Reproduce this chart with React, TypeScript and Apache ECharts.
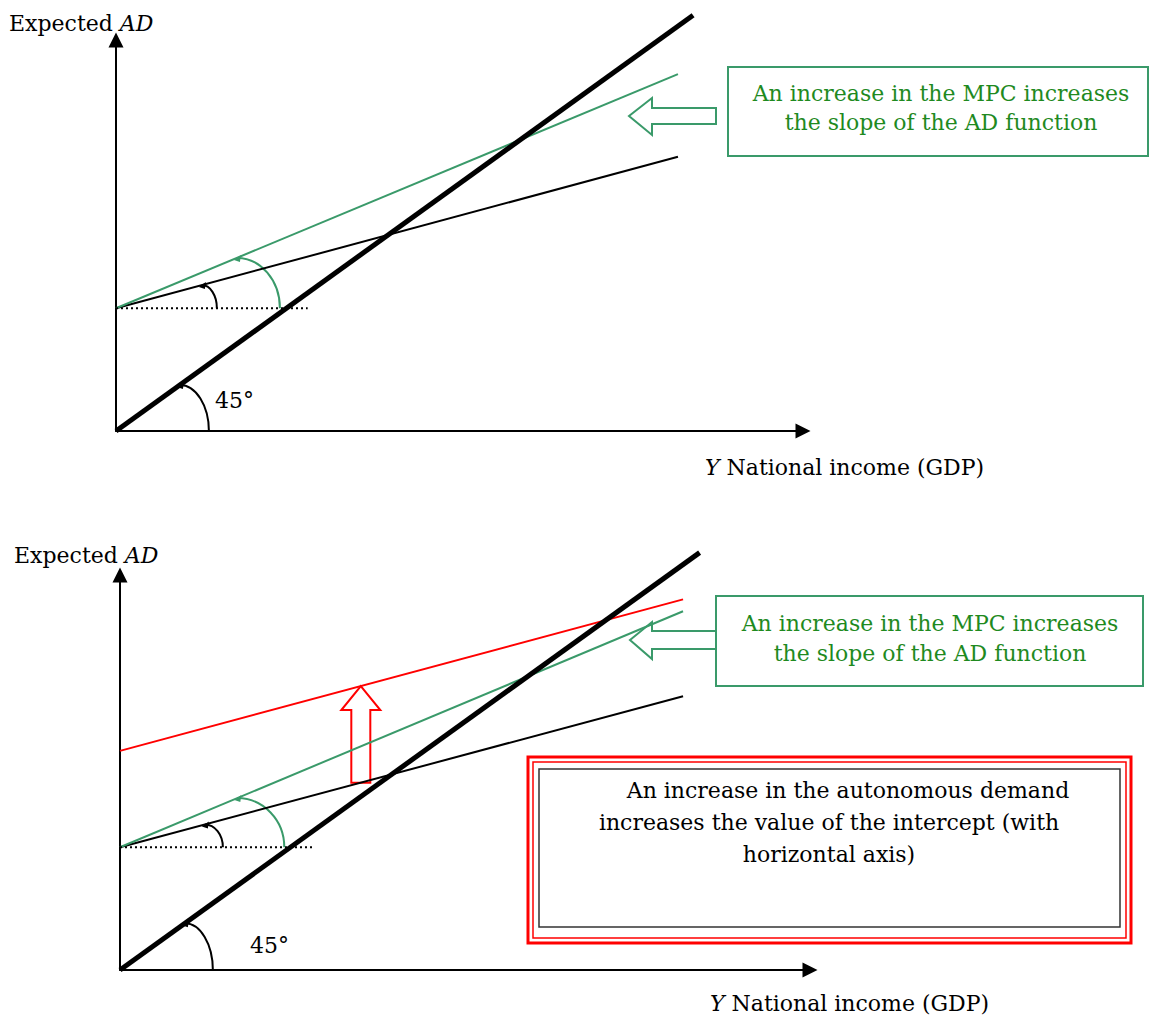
import React, { useEffect, useRef } from "react";
import * as echarts from "echarts";

// ---------- Top diagram (data units) ----------
const topXMax = 100;
const topYMax = 79;
const top45 = [[0, 0], [84, 84]];
const topAD = [[0, 24.8], [81.8, 55.4]];
const topADSteep = [[0, 24.8], [81.8, 72.1]];
const topBaseline = [[0, 24.8], [27.9, 24.8]];
// angle markers: [x where marker meets its line, intercept, slope]
const topAngles = [
  [12.5, 24.8, (55.4 - 24.8) / 81.8],
  [17.6, 24.8, (72.1 - 24.8) / 81.8],
  [9.3, 0, 1],
];

// ---------- Bottom diagram (data units) ----------
const botXMax = 100;
const botYMax = 79.5;
const bot45 = [[0, 0], [84, 84]];
const botAD = [[0, 24.7], [81.6, 55.1]];
const botADSteep = [[0, 24.7], [81.6, 72.2]];
const botADHigh = [[0, 44.1], [81.6, 74.6]];
const botBaseline = [[0, 24.7], [28.1, 24.7]];
const botAngles = [
  [12.3, 24.7, (55.1 - 24.7) / 81.6],
  [17.0, 24.7, (72.2 - 24.7) / 81.6],
  [9.4, 0, 1],
];
const shiftX = 34.9;

// ---------- Texts ----------
const yAxisTitle = "{n|Expected }{i|AD}";
const xAxisTitle = "{i|Y}{n| National income (GDP)}";
const angleLabel = "45°";
const mpcText = ["An increase in the MPC increases", "the slope of the AD function"];
const autoText = [
  "An increase in the autonomous demand",
  "increases the value of the intercept (with",
  "horizontal axis)",
];

// ---------- Styles ----------
const GREEN = "#3a9a6a";
const GREEN_TEXT = "#1f8a1f";
const RED = "#ff0000";
const FONT = "DejaVu Serif";
const FS = 22;
const arcRx = [15, 43, 29];
const arcRxBot = [18, 47, 28];
const arcColors = ["#000", GREEN, "#000"];

const interp = (line: number[][], x: number) => {
  const [a, b] = line;
  return a[1] + ((b[1] - a[1]) * (x - a[0])) / (b[0] - a[0]);
};
const shiftData = [[shiftX, interp(botAD, shiftX), interp(botADHigh, shiftX)]];

const arcRender = (rx: number[], colors: string[]) => (params: any, api: any) => {
  const cx = api.value(0);
  const base = api.value(1);
  const slope = api.value(2);
  const p0 = api.coord([cx, base]);
  const p1 = api.coord([cx, base + slope * cx]);
  const a = rx[params.dataIndex];
  const b = p0[1] - p1[1];
  const k = 0.5523;
  const c = colors[params.dataIndex];
  return {
    type: "group",
    children: [
      {
        type: "bezierCurve",
        shape: {
          x1: p0[0] + a, y1: p0[1],
          cpx1: p0[0] + a, cpy1: p0[1] - k * b,
          cpx2: p0[0] + k * a, cpy2: p1[1],
          x2: p0[0], y2: p1[1],
        },
        style: { stroke: c, fill: null, lineWidth: 2 },
      },
      {
        type: "polygon",
        shape: { points: [[p0[0] - 3, p1[1] + 2], [p0[0] + 4, p1[1] - 3], [p0[0] + 3, p1[1] + 4]] },
        style: { fill: c },
      },
    ],
  };
};

const shiftRender = (params: any, api: any) => {
  const x = api.value(0);
  const bot = api.coord([x, api.value(1)]);
  const tip = api.coord([x, api.value(2)]);
  const hw = 19.5, bw = 9.5, hl = 24;
  return {
    type: "polygon",
    shape: {
      points: [
        [tip[0], tip[1]],
        [tip[0] + hw, tip[1] + hl],
        [tip[0] + bw, tip[1] + hl],
        [tip[0] + bw, bot[1]],
        [tip[0] - bw, bot[1]],
        [tip[0] - bw, tip[1] + hl],
        [tip[0] - hw, tip[1] + hl],
      ],
    },
    style: { fill: "none", stroke: RED, lineWidth: 2 },
  };
};

const axisCommon = {
  type: "value",
  axisTick: { show: false },
  axisLabel: { show: false },
  splitLine: { show: false },
};
const axisLine = {
  show: true,
  onZero: false,
  symbol: ["none", "triangle"],
  symbolSize: [15, 15],
  lineStyle: { color: "#000", width: 2 },
};

const line = (data: number[][], idx: number, color: string, width: number, extra: any = {}) => ({
  type: "line",
  xAxisIndex: idx,
  yAxisIndex: idx,
  data,
  showSymbol: false,
  symbol: "none",
  clip: false,
  silent: true,
  lineStyle: { color, width, ...extra },
});

const richText = (x: number, y: number, text: string, color = "#000", align = "left") => ({
  type: "text",
  x,
  y,
  style: {
    text,
    fill: color,
    fontFamily: FONT,
    fontSize: FS,
    align,
    verticalAlign: "middle",
    rich: {
      n: { fontFamily: FONT, fontSize: FS, fill: color },
      i: { fontFamily: FONT, fontSize: FS, fontStyle: "italic", fill: color },
    },
  },
});

const plainText = (x: number, y: number, text: string, color: string, align = "center") =>
  richText(x, y, `{n|${text}}`, color, align);

const option: any = {
  animation: false,
  backgroundColor: "#fff",
  grid: [
    { left: 116, top: 40, width: 687, height: 391, outerBoundsMode: "none" },
    { left: 120, top: 575, width: 690, height: 395, outerBoundsMode: "none" },
  ],
  xAxis: [
    { ...axisCommon, gridIndex: 0, min: 0, max: topXMax, axisLine },
    { ...axisCommon, gridIndex: 1, min: 0, max: botXMax, axisLine },
  ],
  yAxis: [
    { ...axisCommon, gridIndex: 0, min: 0, max: topYMax, axisLine },
    { ...axisCommon, gridIndex: 1, min: 0, max: botYMax, axisLine },
  ],
  series: [
    line(topAD, 0, "#000", 2),
    line(topADSteep, 0, GREEN, 2),
    line(topBaseline, 0, "#000", 2, { type: [2, 3] }),
    line(top45, 0, "#000", 5),
    {
      type: "custom",
      xAxisIndex: 0,
      yAxisIndex: 0,
      data: topAngles,
      encode: { x: 0, y: 1 },
      renderItem: arcRender(arcRx, arcColors),
      silent: true,
    },
    line(botAD, 1, "#000", 2),
    line(botADSteep, 1, GREEN, 2),
    line(botADHigh, 1, RED, 2),
    line(botBaseline, 1, "#000", 2, { type: [2, 3] }),
    line(bot45, 1, "#000", 5),
    {
      type: "custom",
      xAxisIndex: 1,
      yAxisIndex: 1,
      data: botAngles,
      encode: { x: 0, y: 1 },
      renderItem: arcRender(arcRxBot, arcColors),
      silent: true,
    },
    {
      type: "custom",
      xAxisIndex: 1,
      yAxisIndex: 1,
      data: shiftData,
      encode: { x: 0, y: 1 },
      renderItem: shiftRender,
      silent: true,
    },
  ],
  graphic: [
    // top diagram labels
    richText(9, 23, yAxisTitle),
    richText(705, 467, xAxisTitle),
    plainText(215, 400, angleLabel, "#000", "left"),
    // top MPC box + arrow
    {
      type: "rect",
      shape: { x: 728, y: 67, width: 420, height: 89 },
      style: { fill: "#fff", stroke: GREEN, lineWidth: 2 },
    },
    plainText(941, 93, mpcText[0], GREEN_TEXT),
    plainText(941, 122, mpcText[1], GREEN_TEXT),
    {
      type: "polygon",
      shape: { points: [[629, 116], [652, 98], [652, 108], [716, 108], [716, 124], [652, 124], [652, 135]] },
      style: { fill: "#fff", stroke: GREEN, lineWidth: 2 },
    },
    // bottom diagram labels
    richText(14, 555, yAxisTitle),
    richText(710, 1003, xAxisTitle),
    plainText(250, 945, angleLabel, "#000", "left"),
    {
      type: "rect",
      shape: { x: 716, y: 596, width: 427, height: 90 },
      style: { fill: "#fff", stroke: GREEN, lineWidth: 2 },
    },
    plainText(930, 623, mpcText[0], GREEN_TEXT),
    plainText(930, 653, mpcText[1], GREEN_TEXT),
    {
      type: "polygon",
      shape: { points: [[630, 640], [652, 622], [652, 631], [716, 631], [716, 649], [652, 649], [652, 659]] },
      style: { fill: "#fff", stroke: GREEN, lineWidth: 2 },
    },
    // autonomous demand box
    {
      type: "rect",
      shape: { x: 528, y: 757, width: 603, height: 186 },
      style: { fill: "#fff", stroke: RED, lineWidth: 3 },
    },
    {
      type: "rect",
      shape: { x: 533, y: 762, width: 593, height: 176 },
      style: { fill: "none", stroke: RED, lineWidth: 1.5 },
    },
    {
      type: "rect",
      shape: { x: 539, y: 769, width: 581, height: 158 },
      style: { fill: "#fff", stroke: "#333", lineWidth: 1.5 },
    },
    plainText(848, 790, autoText[0], "#000"),
    plainText(829, 822, autoText[1], "#000"),
    plainText(829, 854, autoText[2], "#000"),
  ],
};

export default function App() {
  const ref = useRef<HTMLDivElement>(null);
  useEffect(() => {
    const chart = echarts.init(ref.current!, null, { renderer: "svg" });
    chart.setOption(option);
    return () => chart.dispose();
  }, []);
  return (
    <div
      ref={ref}
      style={{ position: "absolute", left: 0, top: 0, width: 1150, height: 1021, background: "#fff" }}
    />
  );
}
